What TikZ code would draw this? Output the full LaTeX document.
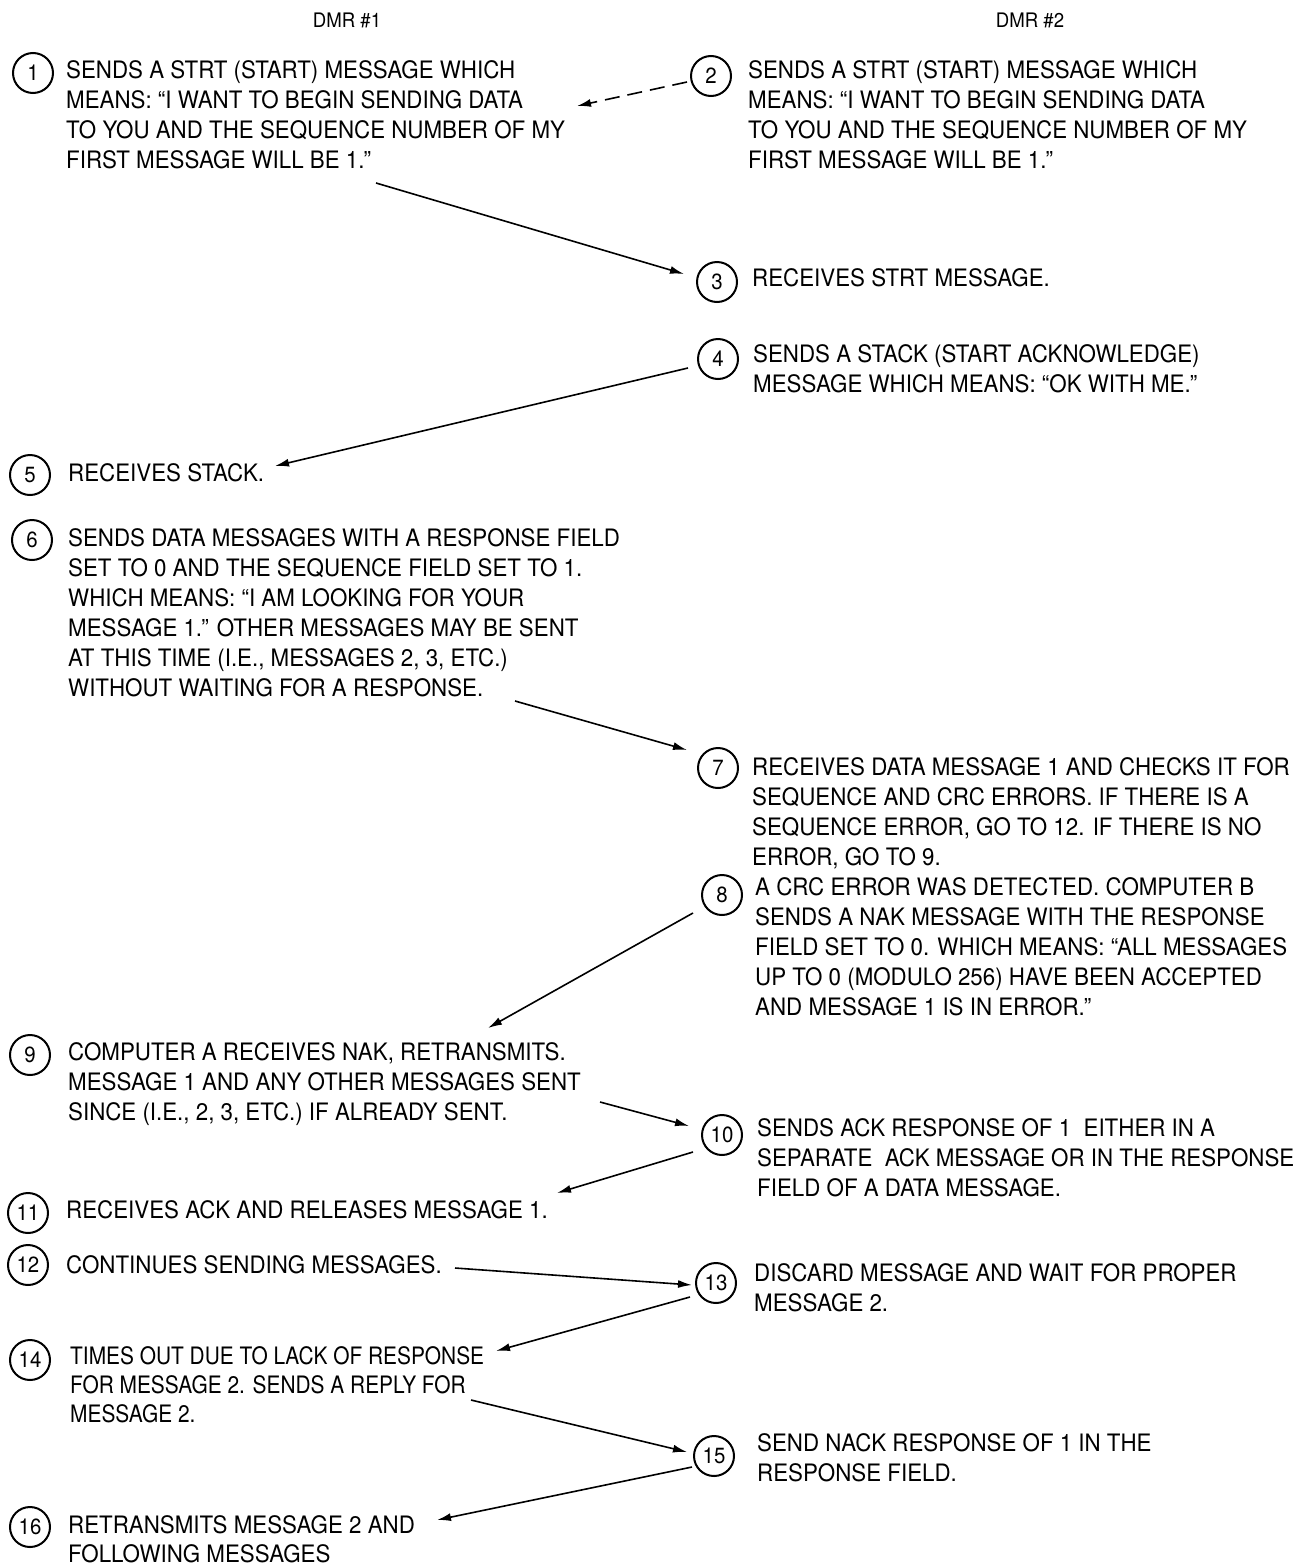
\documentclass[tikz,border=0pt]{standalone}
\usepackage{fontspec}
\setmainfont{TeX Gyre Heros}[FakeStretch=0.93]
\newfontfamily\narrowfont{TeX Gyre Heros}[FakeStretch=0.87]
\usetikzlibrary{arrows.meta}
\begin{document}
\begin{tikzpicture}[x=1pt,y=-1pt,
  num/.style={circle, draw, line width=2pt, minimum size=40pt, inner sep=0pt, font=\fontsize{22}{22}\selectfont},
  desc/.style={anchor=north west, inner sep=0pt, align=left, font=\fontsize{24}{30}\selectfont},
  hdr/.style={font=\fontsize{20}{20}\selectfont, inner sep=0pt},
  arr/.style={line width=1.6pt, -{Latex[length=14pt,width=8pt]}},
  darr/.style={arr, dash pattern=on 15pt off 8pt}]
\useasboundingbox[fill=white] (0,0) rectangle (1305,1566);
\newcommand{\fl}{\rule{0pt}{18pt}}
% headers
\node[hdr] (h1) at (347,20) {DMR \#1};
\node[hdr] (h2) at (1030,20) {DMR \#2};
% circles
\node[num] (c1) at (33,73) {1};
\node[num] (c2) at (711,76) {2};
\node[num] (c3) at (717,282) {3};
\node[num] (c4) at (718,359) {4};
\node[num] (c5) at (30,475) {5};
\node[num] (c6) at (32,540) {6};
\node[num] (c7) at (718,768) {7};
\node[num] (c8) at (722,895) {8};
\node[num] (c9) at (30,1055) {9};
\node[num] (c10) at (722,1135) {10};
\node[num] (c11) at (28,1213) {11};
\node[num] (c12) at (28,1265) {12};
\node[num] (c13) at (716,1283) {13};
\node[num] (c14) at (30,1360) {14};
\node[num] (c15) at (714,1456) {15};
\node[num] (c16) at (30,1527) {16};
% texts
\node[desc] (t1) at (66,60.5) {\fl SENDS A STRT (START) MESSAGE WHICH\\MEANS: ``I WANT TO BEGIN SENDING DATA\\TO YOU AND THE SEQUENCE NUMBER OF MY\\FIRST MESSAGE WILL BE 1.''};
\node[desc] (t2) at (748,60.5) {\fl SENDS A STRT (START) MESSAGE WHICH\\MEANS: ``I WANT TO BEGIN SENDING DATA\\TO YOU AND THE SEQUENCE NUMBER OF MY\\FIRST MESSAGE WILL BE 1.''};
\node[desc] (t3) at (752,268.5) {\fl RECEIVES STRT MESSAGE.};
\node[desc] (t4) at (753,344.5) {\fl SENDS A STACK (START ACKNOWLEDGE)\\MESSAGE WHICH MEANS: ``OK WITH ME.''};
\node[desc] (t5) at (68,463.5) {\fl RECEIVES STACK.};
\node[desc] (t6) at (68,528.5) {\fl SENDS DATA MESSAGES WITH A RESPONSE FIELD\\SET TO 0 AND THE SEQUENCE FIELD SET TO 1.\\WHICH MEANS: ``I AM LOOKING FOR YOUR\\MESSAGE 1.'' OTHER MESSAGES MAY BE SENT\\AT THIS TIME (I.E., MESSAGES 2, 3, ETC.)\\WITHOUT WAITING FOR A RESPONSE.};
\node[desc] (t7) at (752,757) {\fl RECEIVES DATA MESSAGE 1 AND CHECKS IT FOR\\SEQUENCE AND CRC ERRORS. IF THERE IS A\\SEQUENCE ERROR, GO TO 12. IF THERE IS NO\\ERROR, GO TO 9.};
\node[desc] (t8) at (755,877.5) {\fl A CRC ERROR WAS DETECTED. COMPUTER B\\SENDS A NAK MESSAGE WITH THE RESPONSE\\FIELD SET TO 0. WHICH MEANS: ``ALL MESSAGES\\UP TO 0 (MODULO 256) HAVE BEEN ACCEPTED\\AND MESSAGE 1 IS IN ERROR.''};
\node[desc] (t9) at (68,1042.5) {\fl COMPUTER A RECEIVES NAK, RETRANSMITS.\\MESSAGE 1 AND ANY OTHER MESSAGES SENT\\SINCE (I.E., 2, 3, ETC.) IF ALREADY SENT.};
\node[desc] (t10) at (757,1118.5) {\fl SENDS ACK RESPONSE OF 1\ \ EITHER IN A\\SEPARATE\ \ ACK MESSAGE OR IN THE RESPONSE\\FIELD OF A DATA MESSAGE.};
\node[desc] (t11) at (66,1200.5) {\fl RECEIVES ACK AND RELEASES MESSAGE 1.};
\node[desc] (t12) at (66,1255.5) {\fl CONTINUES SENDING MESSAGES.};
\node[desc] (t13) at (754,1263.5) {\fl DISCARD MESSAGE AND WAIT FOR PROPER\\MESSAGE 2.};
\node[desc, font=\fontsize{24}{29}\narrowfont] (t14) at (70,1346.5) {\fl TIMES OUT DUE TO LACK OF RESPONSE\\FOR MESSAGE 2. SENDS A REPLY FOR\\MESSAGE 2.};
\node[desc] (t15) at (757,1433.5) {\fl SEND NACK RESPONSE OF 1 IN THE\\RESPONSE FIELD.};
\node[desc, font=\fontsize{24}{29}\selectfont] (t16) at (68,1515) {\fl RETRANSMITS MESSAGE 2 AND\\FOLLOWING MESSAGES};
% connector end points
\coordinate (a2s) at (687,82);   \coordinate (a2e) at (577,106);
\coordinate (a1s) at (376,183);  \coordinate (a1e) at (684,274);
\coordinate (a4s) at (688,368);  \coordinate (a4e) at (275,466);
\coordinate (a6s) at (515,701);  \coordinate (a6e) at (687,750);
\coordinate (a8s) at (693,913);  \coordinate (a8e) at (488,1028);
\coordinate (a9s) at (600,1102); \coordinate (a9e) at (689,1126);
\coordinate (a10s) at (693,1152); \coordinate (a10e) at (557,1193);
\coordinate (a12s) at (455,1268); \coordinate (a12e) at (692,1285);
\coordinate (a13s) at (690,1297); \coordinate (a13e) at (496,1351);
\coordinate (a14s) at (471,1400); \coordinate (a14e) at (687,1452);
\coordinate (a15s) at (692,1467); \coordinate (a15e) at (437,1520);
% connectors
\draw[darr] (a2s) -- (a2e);
\draw[arr] (a1s) -- (a1e);
\draw[arr] (a4s) -- (a4e);
\draw[arr] (a6s) -- (a6e);
\draw[arr] (a8s) -- (a8e);
\draw[arr] (a9s) -- (a9e);
\draw[arr] (a10s) -- (a10e);
\draw[arr] (a12s) -- (a12e);
\draw[arr] (a13s) -- (a13e);
\draw[arr] (a14s) -- (a14e);
\draw[arr] (a15s) -- (a15e);
\end{tikzpicture}
\end{document}
